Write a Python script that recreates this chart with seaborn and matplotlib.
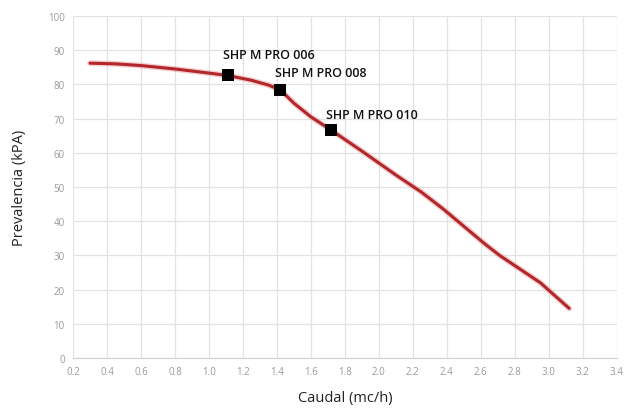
import matplotlib
matplotlib.use('Agg')
import matplotlib.pyplot as plt
import seaborn as sns
import pandas as pd

# curve
caudal = [0.30, 0.45, 0.60, 0.80, 1.00, 1.11, 1.25, 1.35, 1.42, 1.50, 1.60, 1.72,
          1.90, 2.10, 2.25, 2.38, 2.50, 2.62, 2.71, 2.80, 2.95, 3.12]
prevalencia = [86.2, 86.0, 85.5, 84.5, 83.3, 82.6, 81.2, 79.8, 78.4, 74.5, 70.5, 66.6,
               60.5, 53.5, 48.5, 43.5, 38.5, 33.5, 30.0, 27.0, 22.0, 14.5]

modelos = ['SHP M PRO 006', 'SHP M PRO 008', 'SHP M PRO 010']
mod_x = [1.11, 1.42, 1.72]
mod_y = [82.6, 78.4, 66.6]

curva = pd.DataFrame({'caudal': caudal, 'prevalencia': prevalencia})
puntos = pd.DataFrame({'caudal': mod_x, 'prevalencia': mod_y, 'modelo': modelos})

sns.set_style('white')
plt.rcParams['font.family'] = ['Open Sans', 'DejaVu Sans']

fig = plt.figure(figsize=(6.25, 4.14), dpi=100)
ax = fig.add_axes([0.1168, 0.133, 0.870, 0.826])

sns.lineplot(data=curva, x='caudal', y='prevalencia', sort=False, ax=ax,
             color='#e8a0a0', linewidth=4.2, alpha=0.5)
sns.lineplot(data=curva, x='caudal', y='prevalencia', sort=False, ax=ax,
             color='#b3262a', linewidth=2.2)
sns.scatterplot(data=puntos, x='caudal', y='prevalencia', ax=ax, marker='s',
                color='black', s=75, edgecolor='black', linewidth=0, zorder=5)

# label offsets (points)
offs = [(-3.6, 15), (-3.6, 12.5), (-3.6, 11)]
for i in range(len(modelos)):
    ax.annotate(modelos[i], (mod_x[i], mod_y[i]), xytext=offs[i],
                textcoords='offset points', fontsize=9, fontweight='semibold',
                color='#111111', ha='left', va='center')

ax.set_xlim(0.2, 3.4)
ax.set_ylim(0, 100)
ax.set_xticks([0.2 + 0.2 * i for i in range(17)])
ax.set_xticklabels(['%.1f' % (0.2 + 0.2 * i) for i in range(17)])
ax.set_yticks(range(0, 101, 10))
ax.tick_params(axis='both', labelsize=7, colors='#9a9a9a', length=0, pad=6)
ax.grid(True, color='#e3e3e3', linewidth=0.9)
for s in ['top', 'right', 'left']:
    ax.spines[s].set_visible(False)
ax.spines['bottom'].set_color('#cfcfcf')
ax.set_xlabel('Caudal (mc/h)', fontsize=10.5, color='#222222', labelpad=9)
ax.set_ylabel('Prevalencia (kPA)', fontsize=10.5, color='#222222', labelpad=15)

fig.savefig('out.png', dpi=100, facecolor='white')
